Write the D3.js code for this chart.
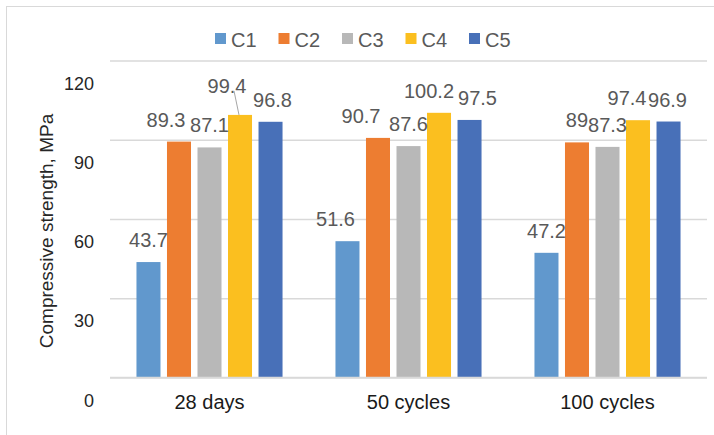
<!DOCTYPE html>
<html>
<head>
<meta charset="utf-8">
<script src="https://cdn.jsdelivr.net/npm/d3@7/dist/d3.min.js"></script>
<style>
  html, body { margin: 0; padding: 0; background: #fff; }
  svg { display: block; font-family: "Liberation Sans", Arial, sans-serif; }
</style>
</head>
<body>
<svg id="chart" width="714" height="435"></svg>
<script>
// ---- data ----
const categories = ["28 days", "50 cycles", "100 cycles"];
const seriesNames = ["C1", "C2", "C3", "C4", "C5"];
const seriesColors = ["#6198cd", "#ed7d31", "#b8b8b8", "#fbbf1f", "#4870b8"];
const valuesC1 = [43.7, 51.6, 47.2];
const valuesC2 = [89.3, 90.7, 89];
const valuesC3 = [87.1, 87.6, 87.3];
const valuesC4 = [99.4, 100.2, 97.4];
const valuesC5 = [96.8, 97.5, 96.9];
const yTicks = [0, 30, 60, 90, 120];
const yTitle = "Compressive strength, MPa";
// manual data-label nudges (dx) as in the reference, per series x category
const labelNudgeC1 = [0, -12, 0];
const labelNudgeC2 = [-13, -17, 0];
const labelNudgeC3 = [0, 0, 0];
const labelNudgeC4 = [-13, -10, -11];
const labelNudgeC5 = [2, 8, -1];
const labelLiftC4 = [-7, 0, 0];

const seriesValues = [valuesC1, valuesC2, valuesC3, valuesC4, valuesC5];
const nudges = [labelNudgeC1, labelNudgeC2, labelNudgeC3, labelNudgeC4, labelNudgeC5];

// ---- layout ----
const svg = d3.select("#chart");
const plot = { left: 110, right: 707, top: 60.5, bottom: 377.5 };

const x0 = d3.scaleBand().domain(categories).range([plot.left, plot.right])
  .paddingInner(0.266).paddingOuter(0.133);
const x1 = d3.scaleBand().domain(seriesNames).range([0, x0.bandwidth()])
  .paddingInner(0.213).paddingOuter(0);
const y = d3.scaleLinear().domain([0, 120]).range([plot.bottom, plot.top]);

// chart border
svg.append("rect").attr("x", 6.5).attr("y", 6.5).attr("width", 720).attr("height", 440)
  .attr("fill", "#fff").attr("stroke", "#d9d9d9").attr("stroke-width", 1);

// gridlines
const grid = d3.axisLeft(y).tickValues(yTicks).tickSize(-(plot.right - plot.left)).tickFormat("");
svg.append("g").attr("transform", `translate(${plot.left},0)`).call(grid)
  .call(g => g.select(".domain").remove())
  .call(g => g.selectAll(".tick line").attr("stroke", "#d9d9d9").attr("stroke-width", 1.3));

// y tick labels (offset below gridlines as in the reference)
svg.append("g").selectAll("text").data(yTicks).join("text")
  .attr("x", 94).attr("y", d => y(d) + 29)
  .attr("text-anchor", "end").attr("font-size", 18).attr("fill", "#262626")
  .text(d => d);

// y title
svg.append("text")
  .attr("transform", `translate(53,231) rotate(-90)`)
  .attr("text-anchor", "middle").attr("font-size", 19).attr("fill", "#262626")
  .text(yTitle);

// bars
const groups = svg.append("g").selectAll("g").data(categories).join("g")
  .attr("transform", d => `translate(${x0(d)},0)`);

groups.selectAll("rect").data((c, ci) => seriesNames.map((s, si) => ({ s, si, ci, v: seriesValues[si][ci] })))
  .join("rect")
  .attr("x", d => x1(d.s)).attr("width", x1.bandwidth())
  .attr("y", d => y(d.v)).attr("height", d => y(0) - y(d.v))
  .attr("fill", d => seriesColors[d.si]);

// data labels
groups.selectAll("text.lbl").data((c, ci) => seriesNames.map((s, si) => ({ s, si, ci, v: seriesValues[si][ci] })))
  .join("text").attr("class", "lbl")
  .attr("x", d => x1(d.s) + x1.bandwidth() / 2 + nudges[d.si][d.ci])
  .attr("y", d => y(d.v) - 15 + (d.si === 3 ? labelLiftC4[d.ci] : 0))
  .attr("text-anchor", "middle").attr("font-size", 20).attr("fill", "#595959")
  .text(d => d.v);

// leader line for the nudged 28-days C4 label
groups.filter((c, ci) => labelLiftC4[ci] !== 0).append("line")
  .each(function (c) {
    const ci = categories.indexOf(c);
    const v = valuesC4[ci];
    const cx = x1("C4") + x1.bandwidth() / 2;
    d3.select(this)
      .attr("x1", cx + labelNudgeC4[ci] + 7).attr("y1", y(v) - 15 + labelLiftC4[ci] - 2)
      .attr("x2", cx - 1).attr("y2", y(v));
  })
  .attr("stroke", "#a6a6a6").attr("stroke-width", 1);

// baseline
svg.append("line").attr("x1", plot.left).attr("x2", plot.right)
  .attr("y1", y(0)).attr("y2", y(0)).attr("stroke", "#d9d9d9").attr("stroke-width", 1.5);

// x axis labels
const xAxis = d3.axisBottom(x0).tickSize(0).tickPadding(0);
svg.append("g").attr("transform", `translate(0,${y(0)})`).call(xAxis)
  .call(g => g.select(".domain").remove())
  .call(g => g.selectAll("text").attr("font-size", 20).attr("fill", "#1a1a1a")
    .attr("font-family", "'Liberation Sans', Arial, sans-serif")
    .attr("dy", null).attr("y", 31));

// legend
const legend = svg.append("g").attr("transform", "translate(215,33)");
const li = legend.selectAll("g").data(seriesNames).join("g")
  .attr("transform", (d, i) => `translate(${i * 63.5},0)`);
li.append("rect").attr("width", 11).attr("height", 11).attr("fill", (d, i) => seriesColors[i]);
li.append("text").attr("x", 16).attr("y", 14).attr("font-size", 20).attr("fill", "#595959").text(d => d);
</script>
</body>
</html>
